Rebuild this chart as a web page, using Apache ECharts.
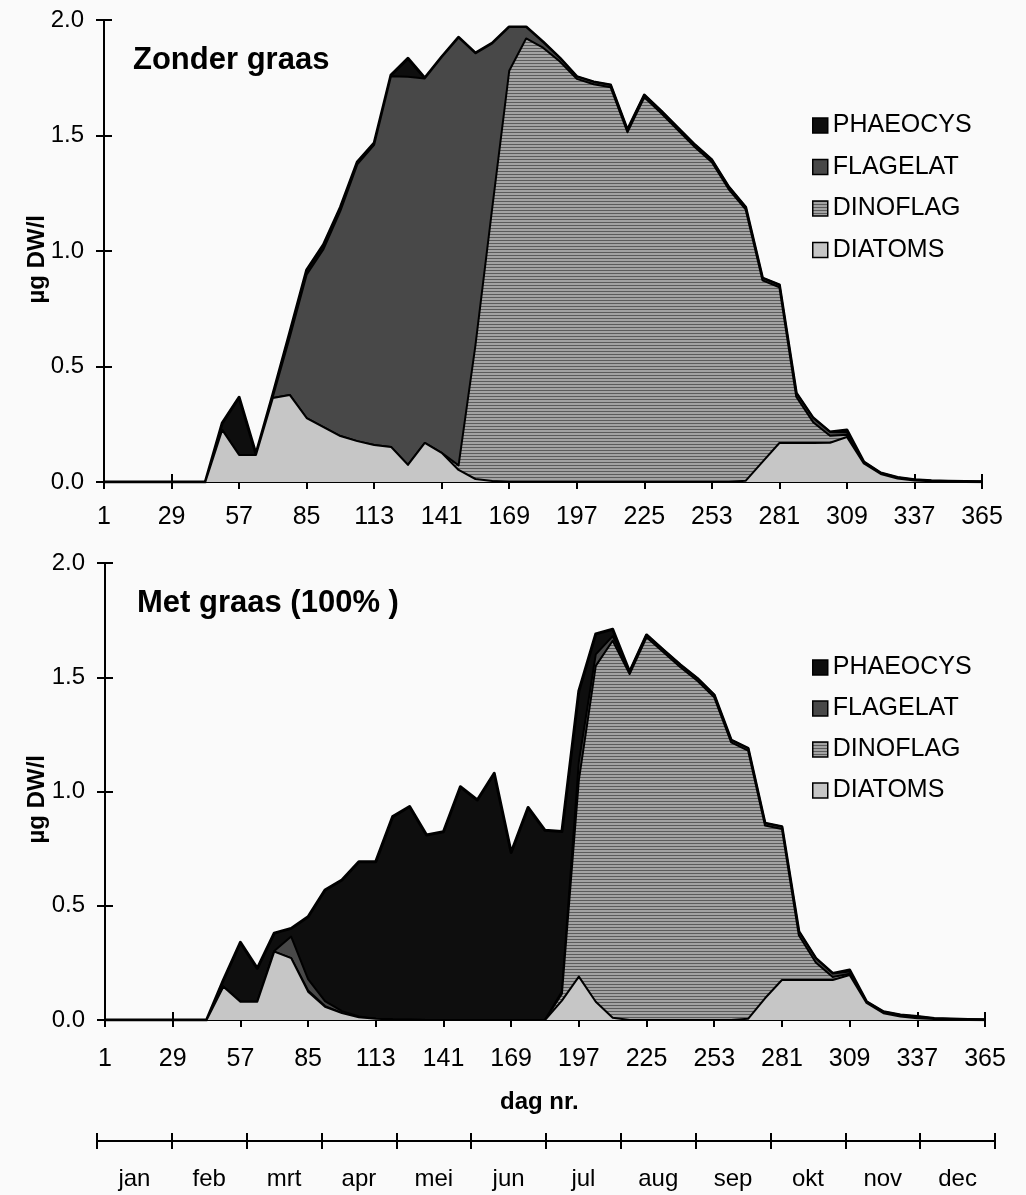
<!DOCTYPE html>
<html><head><meta charset="utf-8">
<script src="https://cdn.jsdelivr.net/npm/echarts@6/dist/echarts.min.js"></script>
<style>html,body{margin:0;padding:0;background:#fafafa}#c{width:1026px;height:1195px}</style>
</head><body><div id="c"></div>
<script>
// ---------- data ----------
const days = [1,8,15,22,29,36,43,50,57,64,71,78,85,92,99,106,113,120,127,134,141,148,155,162,169,176,183,190,197,204,211,218,225,232,239,246,253,260,267,274,281,288,295,302,309,316,323,330,337,344,351,358,365];
const dayTicks = [1,29,57,85,113,141,169,197,225,253,281,309,337,365];
const months = ['jan','feb','mrt','apr','mei','jun','jul','aug','sep','okt','nov','dec'];
const seriesNames = ['PHAEOCYS','FLAGELAT','DINOFLAG','DIATOMS'];
const panelTitles = ['Zonder graas','Met graas (100% )'];

// Zonder graas (top panel)
const zonderDiatoms = [0,0,0,0,0,0,0,0.225,0.117,0.117,0.364,0.377,0.277,0.238,0.199,0.177,0.16,0.152,0.074,0.169,0.126,0.052,0.013,0.004,0,0,0,0,0,0,0,0,0,0,0,0,0,0,0.005,0.087,0.169,0.169,0.169,0.17,0.195,0.08,0.035,0.015,0.006,0.003,0.002,0.001,0.001];
const zonderDinoflag = [0,0,0,0,0,0,0,0,0,0,0,0,0,0,0,0,0,0,0,0,0,0.02,0.58,1.186,1.78,1.92,1.88,1.82,1.745,1.722,1.709,1.514,1.665,1.596,1.522,1.449,1.384,1.267,1.175,0.786,0.674,0.2,0.09,0.03,0.01,0.004,0.002,0.001,0.001,0,0,0,0];
const zonderFlagelat = [0,0,0,0,0,0,0,0,0,0,0.005,0.25,0.62,0.77,0.975,1.198,1.3,1.605,1.68,1.578,1.713,1.852,1.263,0.709,0.19,0.05,0.025,0.015,0.01,0.01,0.01,0.01,0.01,0.01,0.01,0.01,0.01,0.01,0.01,0.01,0.01,0.016,0.018,0.016,0.01,0.003,0.002,0.004,0.003,0.002,0.001,0.001,0];
const zonderPhaeocys = [0,0,0,0,0,0,0,0.03,0.25,0.005,0.01,0.02,0.02,0.02,0.015,0.01,0.007,0.005,0.08,0.002,0.001,0.001,0.001,0.001,0,0,0,0,0,0,0,0,0,0,0,0,0,0,0,0,0,0,0,0,0.01,0,0,0,0,0,0,0,0];

// Met graas (bottom panel)
const metDiatoms = [0,0,0,0,0,0,0,0.146,0.08,0.08,0.299,0.271,0.124,0.058,0.03,0.012,0.005,0.002,0.001,0,0,0,0,0,0,0,0,0.085,0.19,0.08,0.01,0,0,0,0,0,0,0,0.005,0.095,0.175,0.175,0.175,0.175,0.197,0.075,0.03,0.015,0.008,0.004,0.002,0.001,0.001];
const metDinoflag = [0,0,0,0,0,0,0,0,0,0,0,0,0.005,0.003,0.001,0,0,0,0,0,0,0,0,0,0,0,0,0.03,0.86,1.47,1.65,1.514,1.675,1.609,1.544,1.485,1.412,1.215,1.174,0.756,0.661,0.196,0.077,0.013,0.005,0.002,0.002,0.001,0,0,0,0,0];
const metFlagelat = [0,0,0,0,0,0,0,0,0,0,0.003,0.094,0.05,0.022,0.008,0.003,0.001,0,0,0,0,0,0,0,0,0,0,0.01,0.08,0.05,0.02,0.01,0.01,0.01,0.01,0.01,0.01,0.01,0.01,0.01,0.01,0.016,0.018,0.016,0.01,0.003,0.004,0.006,0.007,0.003,0.002,0.001,0];
const metPhaeocys = [0,0,0,0,0,0,0,0.03,0.26,0.146,0.078,0.036,0.273,0.486,0.574,0.678,0.687,0.888,0.933,0.81,0.824,1.021,0.963,1.08,0.733,0.93,0.83,0.70,0.31,0.09,0.03,0,0,0,0,0,0,0,0,0,0,0,0,0,0.007,0,0,0,0,0,0,0,0];

// ---------- styles ----------
function makePattern(w, h, rects) {
  const c = document.createElement('canvas');
  c.width = w; c.height = h;
  const ctx = c.getContext('2d');
  rects.forEach(function (r) { ctx.fillStyle = r[4]; ctx.fillRect(r[0], r[1], r[2], r[3]); });
  return { image: c, repeat: 'repeat' };
}
const stripeFill = makePattern(4, 3, [[0,0,4,3,'#a3a3a3'],[0,0,4,1,'#5c5c5c']]);
const fills = { PHAEOCYS: '#0e0e0e', FLAGELAT: '#484848', DINOFLAG: stripeFill, DIATOMS: '#c6c6c6' };
const lineWidths = { PHAEOCYS: 3, FLAGELAT: 2, DINOFLAG: 2, DIATOMS: 2 };
const FONT = 'Liberation Sans, Arial, sans-serif';
const isDayTick = function (idx, val) { return dayTicks.indexOf(Number(val)) >= 0; };

const panels = [
  { grid: { left: 104, top: 20, width: 878, height: 462 },
    values: { DIATOMS: zonderDiatoms, DINOFLAG: zonderDinoflag, FLAGELAT: zonderFlagelat, PHAEOCYS: zonderPhaeocys },
    titleTop: 45, titleLeft: 133, nameY: 257, legendTop: 113, legendGap: 16.5, labelMargin: 23 },
  { grid: { left: 105, top: 563, width: 880, height: 457 },
    values: { DIATOMS: metDiatoms, DINOFLAG: metDinoflag, FLAGELAT: metFlagelat, PHAEOCYS: metPhaeocys },
    titleTop: 588, titleLeft: 137, nameY: 797, legendTop: 655, legendGap: 16, labelMargin: 27 }
];

const grids = [], xAxes = [], yAxes = [], series = [], legends = [], graphics = [];
const axisLine = { show: true, lineStyle: { color: '#000', width: 2 } };
const dayLabels = days.map(String);
panels.forEach(function (p, gi) {
  grids.push(p.grid);
  xAxes.push({ type: 'category', gridIndex: gi, data: dayLabels, boundaryGap: false, position: 'bottom',
    axisLine: axisLine, splitLine: { show: false },
    axisTick: { show: true, interval: isDayTick, length: 7, lineStyle: { color: '#000', width: 2 } },
    axisLabel: { interval: isDayTick, margin: p.labelMargin, fontSize: 25, color: '#000', fontFamily: FONT } });
  xAxes.push({ type: 'category', gridIndex: gi, data: dayLabels, boundaryGap: false, position: 'bottom', offset: 0,
    axisLine: { show: false }, splitLine: { show: false }, axisLabel: { show: false },
    axisTick: { show: true, inside: true, interval: isDayTick, length: 8, lineStyle: { color: '#000', width: 2 } } });
  yAxes.push({ type: 'value', gridIndex: gi, min: 0, max: 2, interval: 0.5, position: 'left',
    axisLine: axisLine, splitLine: { show: false },
    axisTick: { show: true, length: 8, lineStyle: { color: '#000', width: 2 } },
    axisLabel: { margin: 20, fontSize: 24, color: '#000', fontFamily: FONT, formatter: function (v) { return v.toFixed(1); } } });
  yAxes.push({ type: 'value', gridIndex: gi, min: 0, max: 2, interval: 0.5, position: 'left', offset: 0,
    axisLine: { show: false }, splitLine: { show: false }, axisLabel: { show: false },
    axisTick: { show: true, inside: true, length: 8, lineStyle: { color: '#000', width: 2 } } });

  ['DIATOMS','DINOFLAG','FLAGELAT','PHAEOCYS'].forEach(function (name, si) {
    series.push({
      name: name, type: 'line', stack: 'panel' + gi,
      xAxisIndex: gi * 2, yAxisIndex: gi * 2,
      symbol: 'none', z: 10 - si,
      itemStyle: { color: fills[name] },
      lineStyle: { color: '#000', width: lineWidths[name], join: 'round' },
      areaStyle: { color: fills[name], opacity: 1 },
      data: p.values[name]
    });
  });

  legends.push({
    orient: 'vertical', left: 812, top: p.legendTop, itemGap: p.legendGap, z: 50, padding: 0,
    itemWidth: 15, itemHeight: 15, icon: 'rect', selectedMode: false,
    textStyle: { fontSize: 25, lineHeight: 25, color: '#000', fontFamily: FONT },
    itemStyle: { borderColor: '#000', borderWidth: 1.5 },
    data: seriesNames.slice()
  });

  graphics.push({ type: 'text', left: p.titleLeft, top: p.titleTop, z: 50,
    style: { text: panelTitles[gi], font: 'bold 31px ' + FONT, fill: '#000' } });
  graphics.push({ type: 'text', left: 25, top: p.nameY - 42, rotation: Math.PI / 2, z: 50,
    style: { text: 'µg DW/l', font: 'bold 24px ' + FONT, fill: '#000' } });
});

grids.push({ left: 97, top: 1140, width: 898, height: 1 });
xAxes.push({ type: 'category', gridIndex: 2, data: months, boundaryGap: true, position: 'bottom',
  axisLine: axisLine,
  axisTick: { show: true, interval: 0, length: 8, lineStyle: { color: '#000', width: 2 } },
  axisLabel: { interval: 0, margin: 26, fontSize: 24, color: '#000', fontFamily: FONT } });
xAxes.push({ type: 'category', gridIndex: 2, data: months, boundaryGap: true, position: 'bottom', offset: 0,
  axisLine: { show: false }, axisLabel: { show: false },
  axisTick: { show: true, inside: true, interval: 0, length: 8, lineStyle: { color: '#000', width: 2 } } });
yAxes.push({ type: 'value', gridIndex: 2, show: false });

graphics.push({ type: 'text', left: 500, top: 1090, z: 50,
  style: { text: 'dag nr.', font: 'bold 24px ' + FONT, fill: '#000' } });

const chart = echarts.init(document.getElementById('c'));
chart.setOption({
  backgroundColor: '#fafafa',
  animation: false,
  grid: grids, xAxis: xAxes, yAxis: yAxes, series: series, legend: legends,
  graphic: graphics
});
</script></body></html>
